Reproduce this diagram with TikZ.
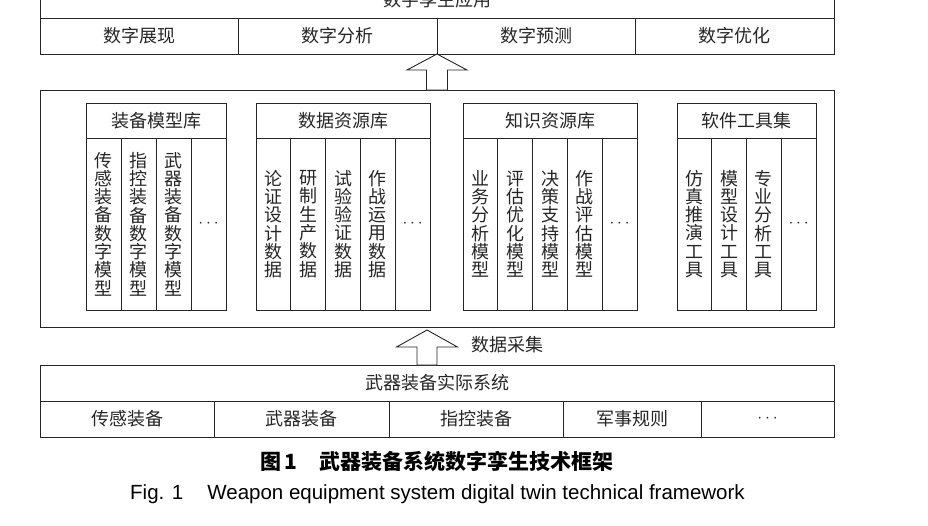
\documentclass[tikz,border=0pt]{standalone}
\usepackage{fontspec}
\setmainfont{Liberation Serif}
\newfontfamily\cjk{Noto Sans CJK SC}
\newfontfamily\enfont{Liberation Sans}
\usetikzlibrary{calc}
\begin{document}
\begin{tikzpicture}[x=1pt,y=-1pt,
  box/.style={draw=black!85, line width=0.9pt, inner sep=0pt, outer sep=0pt,
    font=\cjk\fontsize{18}{18}\selectfont, text=black!85},
  cell/.style={box, minimum height=36},
  head/.style={box, minimum height=35},
  col/.style={box, minimum height=172, align=center,
    font=\cjk\fontsize{18}{18.3}\selectfont},
  harrow/.style={draw=black!85, line width=0.9pt, fill=white, line join=miter},
  lbl/.style={inner sep=0pt, font=\cjk\fontsize{18}{18}\selectfont, text=black!85}]
\useasboundingbox (0,0) rectangle (928,525);
\clip (0,0) rectangle (928,525);

% ---------- top: digital twin application ----------
\node[cell, minimum width=794] (app) at (437,0) {数字孪生应用};
\node[cell, minimum width=198.5] (app1) at (139.25,36) {数字展现};
\node[cell, minimum width=198.5] (app2) at (337.75,36) {数字分析};
\node[cell, minimum width=198.5] (app3) at (536.25,36) {数字预测};
\node[cell, minimum width=198.5] (app4) at (734.75,36) {数字优化};

% ---------- middle: twin resources ----------
\node[box, minimum width=794, minimum height=237] (twin) at (437,208.5) {};

% A: equipment model library
\node[head, minimum width=140] (ha) at (156,120.5) {装备模型库};
\node[col, minimum width=35] (a1) at (103.5,224) {传\\感\\装\\备\\数\\字\\模\\型};
\node[col, minimum width=35] (a2) at (138.5,224) {指\\控\\装\\备\\数\\字\\模\\型};
\node[col, minimum width=35] (a3) at (173.5,224) {武\\器\\装\\备\\数\\字\\模\\型};
\node[col, minimum width=35] (a4) at (208.5,224) {$\cdots$};

% B: data resource library
\node[head, minimum width=174] (hb) at (343,120.5) {数据资源库};
\node[col, minimum width=34.8] (b1) at (273.4,224) {论\\证\\设\\计\\数\\据};
\node[col, minimum width=34.8] (b2) at (308.2,224) {研\\制\\生\\产\\数\\据};
\node[col, minimum width=34.8] (b3) at (343,224) {试\\验\\验\\证\\数\\据};
\node[col, minimum width=34.8] (b4) at (377.8,224) {作\\战\\运\\用\\数\\据};
\node[col, minimum width=34.8] (b5) at (412.6,224) {$\cdots$};

% C: knowledge resource library
\node[head, minimum width=174] (hc) at (550,120.5) {知识资源库};
\node[col, minimum width=34.8] (c1) at (480.4,224) {业\\务\\分\\析\\模\\型};
\node[col, minimum width=34.8] (c2) at (515.2,224) {评\\估\\优\\化\\模\\型};
\node[col, minimum width=34.8] (c3) at (550,224) {决\\策\\支\\持\\模\\型};
\node[col, minimum width=34.8] (c4) at (584.8,224) {作\\战\\评\\估\\模\\型};
\node[col, minimum width=34.8] (c5) at (619.6,224) {$\cdots$};

% D: software tool set
\node[head, minimum width=139] (hd) at (746.5,120.5) {软件工具集};
\node[col, minimum width=34.75] (d1) at (694.375,224) {仿\\真\\推\\演\\工\\具};
\node[col, minimum width=34.75] (d2) at (729.125,224) {模\\型\\设\\计\\工\\具};
\node[col, minimum width=34.75] (d3) at (763.875,224) {专\\业\\分\\析\\工\\具};
\node[col, minimum width=34.75] (d4) at (798.625,224) {$\cdots$};

% ---------- bottom: real system ----------
\node[cell, minimum width=794] (real) at (437,383) {武器装备实际系统};
\node[cell, minimum width=174] (r1) at (127,419) {传感装备};
\node[cell, minimum width=175] (r2) at (301.5,419) {武器装备};
\node[cell, minimum width=174] (r3) at (476,419) {指控装备};
\node[cell, minimum width=138] (r4) at (632,419) {军事规则};
\node[cell, minimum width=133] (r5) at (767.5,419) {$\cdots$};

% ---------- hollow arrows ----------
\coordinate (t1) at (app2.south east);
\coordinate (b1) at (t1 |- twin.north);
\draw[harrow] (t1) -- ($(t1)+(30,16)$) -- ($(t1)+(10.5,16)$) -- ($(b1)+(10.5,0)$)
  -- ($(b1)+(-10.5,0)$) -- ($(t1)+(-10.5,16)$) -- ($(t1)+(-30,16)$) -- cycle;

\coordinate (t2) at ($(twin.south)+(-10,3)$);
\coordinate (b2) at (t2 |- real.north);
\draw[harrow] (t2) -- ($(t2)+(30.5,17)$) -- ($(t2)+(10,17)$) -- ($(b2)+(10,0)$)
  -- ($(b2)+(-10,0)$) -- ($(t2)+(-10,17)$) -- ($(t2)+(-30.5,17)$) -- cycle;
\node[lbl, anchor=west] (acq) at ($(t2)+(44,15)$) {数据采集};

% ---------- captions ----------
\node[inner sep=0pt, font=\cjk\bfseries\fontsize{21}{21}\selectfont] (cap1) at (437,461)
  {图\,1\hspace{22pt}武器装备系统数字孪生技术框架};
\node[inner sep=0pt, font=\enfont\fontsize{20.5}{20.5}\selectfont] (cap2) at (437.5,494)
  {Fig. 1\hspace{24pt}Weapon equipment system digital twin technical framework};
\end{tikzpicture}
\end{document}
